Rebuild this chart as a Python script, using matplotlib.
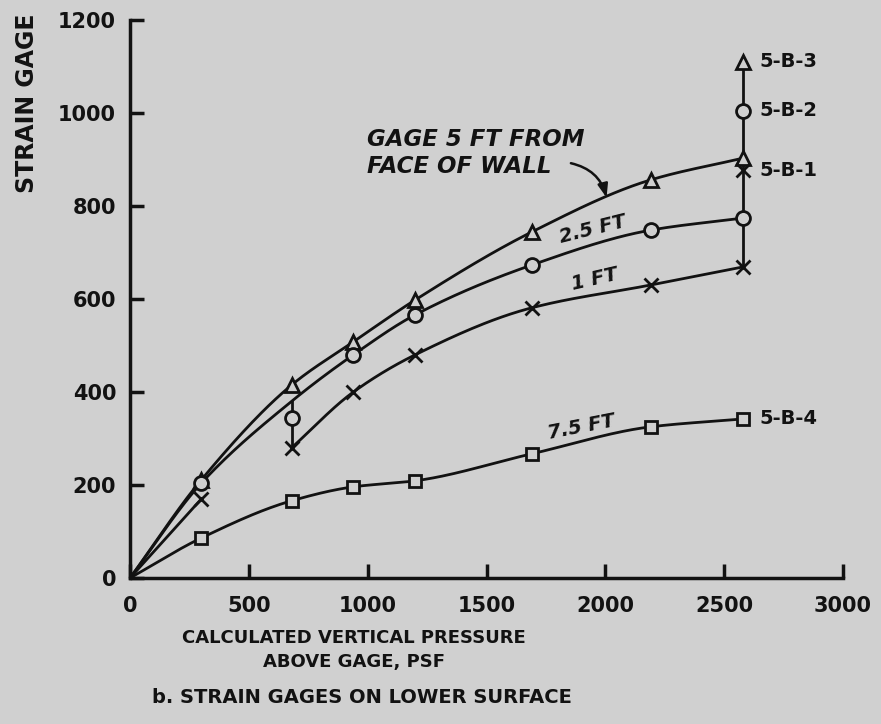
import numpy as np
import matplotlib
matplotlib.use("Agg")
import matplotlib.pyplot as plt

# Pritisak iznad mjerila (psf) i ocitanja mjerila deformacije
tlak = [0, 300, 680, 940, 1200, 1690, 2190, 2580]

gage_5ft = [0, 211, 415, 508, 598, 744, 856, 903]
gage_25ft = [0, 204, 344, 480, 566, 673, 748, 774]
gage_1ft = [0, 170, 280, 400, 480, 581, 630, 669]
gage_75ft = [0, 86, 166, 196, 209, 267, 325, 342]

# krivulja 2.5 ft prolazi iznad kruzica kod 680 psf
spoj_25ft = 380

# zadnja ocitanja na kraju (5-B-x)
krajnji = {"5-B-3": 1110, "5-B-2": 1005, "5-B-1": 877, "5-B-4": 342}

pozadina = "#d0d0d0"
tinta = "#121212"


def glatko(x, y, n=40):
    """Monotona kubna krivulja kroz tocke (Fritsch-Carlson)."""
    x = np.asarray(x, float)
    y = np.asarray(y, float)
    h = np.diff(x)
    d = np.diff(y) / h
    m = np.zeros_like(y)
    m[0] = d[0]
    m[-1] = d[-1]
    for k in range(1, len(x) - 1):
        if d[k - 1] * d[k] <= 0:
            m[k] = 0
        else:
            w1 = 2 * h[k] + h[k - 1]
            w2 = h[k] + 2 * h[k - 1]
            m[k] = (w1 + w2) / (w1 / d[k - 1] + w2 / d[k])
    xs, ys = [], []
    t = np.linspace(0, 1, n)
    for k in range(len(h)):
        h00 = 2 * t**3 - 3 * t**2 + 1
        h10 = t**3 - 2 * t**2 + t
        h01 = -2 * t**3 + 3 * t**2
        h11 = t**3 - t**2
        xs.append(x[k] + t * h[k])
        ys.append(h00 * y[k] + h10 * h[k] * m[k] + h01 * y[k + 1] + h11 * h[k] * m[k + 1])
    return np.concatenate(xs), np.concatenate(ys)


fig = plt.figure(figsize=(8.81, 7.24), dpi=100, facecolor=pozadina)
ax = fig.add_axes([0.1476, 0.2017, 0.8093, 0.7707], facecolor=pozadina)

lw = 2.0
mk = dict(markersize=10, markeredgewidth=2.0, markeredgecolor=tinta,
          markerfacecolor=pozadina, linestyle="none", zorder=4, clip_on=False)

# krivulje
x, y = glatko(tlak, gage_5ft)
ax.plot(x, y, color=tinta, lw=lw)
y25 = list(gage_25ft)
y25[2] = spoj_25ft
x, y = glatko(tlak, y25)
ax.plot(x, y, color=tinta, lw=lw)
x, y = glatko(tlak[2:], gage_1ft[2:])
ax.plot(x, y, color=tinta, lw=lw)
ax.plot(tlak[:2], gage_1ft[:2], color=tinta, lw=lw)
x, y = glatko(tlak, gage_75ft)
ax.plot(x, y, color=tinta, lw=lw)

# spojnica kod 680 psf i okomita linija na kraju
ax.plot([tlak[2], tlak[2]], [gage_1ft[2], spoj_25ft], color=tinta, lw=lw)
ax.plot([tlak[-1], tlak[-1]], [gage_1ft[-1], krajnji["5-B-3"]], color=tinta, lw=lw)

# oznake
ax.plot(tlak[1:], gage_5ft[1:], marker="^", **mk)
ax.plot(tlak[1:], gage_25ft[1:], marker="o", **mk)
ax.plot(tlak[1:], gage_1ft[1:], marker="x", **mk)
ax.plot(tlak[1:], gage_75ft[1:], marker="s", **dict(mk, markersize=9))
ax.plot(tlak[-1], krajnji["5-B-3"], marker="^", **mk)
ax.plot(tlak[-1], krajnji["5-B-2"], marker="o", **mk)
ax.plot(tlak[-1], krajnji["5-B-1"], marker="x", **mk)

for ime, vr in krajnji.items():
    ax.text(2650, vr, ime, fontsize=14, fontweight="bold", color=tinta,
            ha="left", va="center")

# natpisi krivulja
tekst = dict(fontsize=14, fontweight="bold", style="italic", color=tinta,
             ha="center", va="center")
ax.text(1945, 750, "2.5 FT", rotation=14, **tekst)
ax.text(1955, 643, "1 FT", rotation=13, **tekst)
ax.text(1900, 325, "7.5 FT", rotation=11, **tekst)
ax.text(995, 914, "GAGE 5 FT FROM\nFACE OF WALL", fontsize=16.5,
        fontweight="bold", style="italic", color=tinta, ha="left",
        va="center", linespacing=1.2)
ax.annotate("", xy=(2005, 818), xytext=(1855, 892),
            arrowprops=dict(arrowstyle="-|>,head_length=0.8,head_width=0.3",
                            color=tinta, lw=1.8,
                            connectionstyle="arc3,rad=-0.3",
                            shrinkA=0, shrinkB=0))

ax.set_xlim(0, 3000)
ax.set_ylim(0, 1200)
ax.set_xticks(np.arange(0, 3001, 500))
ax.set_yticks(np.arange(0, 1201, 200))
for s in ["top", "right"]:
    ax.spines[s].set_visible(False)
for s in ["left", "bottom"]:
    ax.spines[s].set_linewidth(2.5)
    ax.spines[s].set_color(tinta)
ax.tick_params(direction="in", length=10, width=2.5, color=tinta, pad=10,
               labelsize=15, labelcolor=tinta)
ax.tick_params(axis="x", pad=13)
for lab in ax.get_xticklabels() + ax.get_yticklabels():
    lab.set_fontweight("bold")

fig.text(0.031, 0.858, "STRAIN GAGE", rotation=90, fontsize=17,
         fontweight="bold", color=tinta, ha="center", va="center")
fig.text(0.402, 0.102, "CALCULATED VERTICAL PRESSURE\nABOVE GAGE, PSF",
         fontsize=13, fontweight="bold", color=tinta, ha="center",
         va="center", linespacing=1.45)
fig.text(0.411, 0.037, "b. STRAIN GAGES ON LOWER SURFACE", fontsize=14,
         fontweight="bold", color=tinta, ha="center", va="center")

fig.savefig("out.png", dpi=100, facecolor=pozadina)
